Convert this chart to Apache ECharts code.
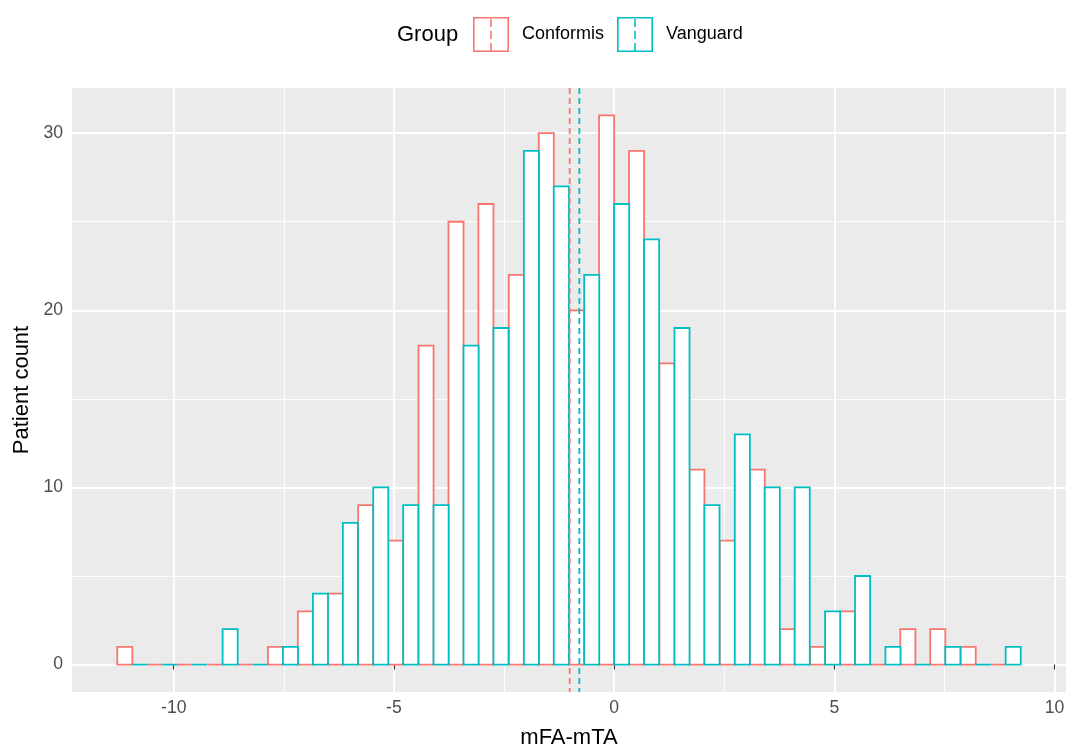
<!DOCTYPE html>
<html><head><meta charset="utf-8">
<script src="https://cdn.jsdelivr.net/npm/echarts@6/dist/echarts.min.js"></script>
<style>html,body{margin:0;padding:0;background:#fff}#c{width:1067px;height:747px}</style>
</head><body><div id="c"></div>
<script>
// ---- data ----
const binCenters = [-10.94, -10.26, -9.58, -8.89, -8.21, -7.52, -6.84, -6.16, -5.47, -4.79,
  -4.10, -3.42, -2.74, -2.05, -1.37, -0.68, 0, 0.68, 1.37, 2.05,
  2.74, 3.42, 4.10, 4.79, 5.47, 6.16, 6.84, 7.52, 8.21, 8.89];
const conformisCounts = [1, 0, 0, 0, 0, 1, 3, 4, 9, 7,
  18, 25, 26, 22, 30, 20, 31, 29, 17, 11,
  7, 11, 2, 1, 3, 0, 2, 2, 1, 0];
const vanguardCounts = [0, 0, 0, 2, 0, 1, 4, 8, 10, 9,
  9, 18, 19, 29, 27, 22, 26, 24, 19, 9,
  13, 10, 10, 3, 5, 1, 0, 1, 0, 1];
const groupNames = ['Conformis', 'Vanguard'];
const groupMeans = [-1.01, -0.79];
const xTickValues = [-10, -5, 0, 5, 10];
const yTickValues = [0, 10, 20, 30];

// ---- style ----
const binWidth = 0.684;
const colors = ['#F8766D', '#00BFC4'];
const FONT = '"Liberation Sans", Arial, sans-serif';

function histRender(side, color) {
  return function (params, api) {
    const c = api.value(0), v = api.value(1);
    const x0 = side < 0 ? c - binWidth / 2 : c;
    const x1 = side < 0 ? c : c + binWidth / 2;
    const p0 = api.coord([x0, v]);
    const p1 = api.coord([x1, 0]);
    return {
      type: 'rect',
      shape: { x: p0[0], y: p0[1], width: p1[0] - p0[0], height: p1[1] - p0[1] },
      style: { fill: v > 0 ? '#ffffff' : null, stroke: color, lineWidth: 1.8 }
    };
  };
}
function meanRender(color) {
  return function (params, api) {
    const v = api.value(0);
    const cs = params.coordSys;
    const p = api.coord([v, 0]);
    return {
      type: 'line',
      shape: { x1: p[0], y1: cs.y, x2: p[0], y2: cs.y + cs.height },
      style: { stroke: color, lineWidth: 1.8, lineDash: [6, 4] }
    };
  };
}

const keyIcon = 'path://M0,0H36V35H0Z M1.6,1.6V33.4H34.4V1.6Z M17.2,2H18.8V10H17.2Z M17.2,14H18.8V22H17.2Z M17.2,26H18.8V33.4H17.2Z';

const chart = echarts.init(document.getElementById('c'), null, { renderer: 'canvas' });
chart.setOption({
  animation: false,
  backgroundColor: '#ffffff',
  textStyle: { fontFamily: FONT },
  title: {
    text: 'Group', left: 397, top: 24, padding: 0,
    textStyle: { fontSize: 22, fontWeight: 'normal', color: '#000', fontFamily: FONT }
  },
  legend: {
    left: 473, top: 17, padding: 0,
    itemWidth: 36, itemHeight: 35, itemGap: 13,
    selectedMode: false,
    textStyle: { fontSize: 18, color: '#000', fontFamily: FONT, padding: [0, 0, 0, 8] },
    data: groupNames.map((n, i) => ({
      name: n, icon: keyIcon,
      itemStyle: { color: colors[i], borderWidth: 0 }
    }))
  },
  grid: {
    left: 72, right: 1, top: 88, bottom: 55,
    show: true, backgroundColor: '#EBEBEB', borderWidth: 0,
    containLabel: false, outerBoundsMode: 'none'
  },
  xAxis: {
    type: 'value', min: -12.31, max: 10.26,
    minInterval: 5, maxInterval: 5,
    name: 'mFA-mTA', nameLocation: 'middle', nameGap: 35,
    nameTextStyle: { fontSize: 22, color: '#000', fontFamily: FONT },
    axisLine: { show: false },
    axisTick: { show: true, length: 5, customValues: xTickValues, lineStyle: { color: '#333333', width: 1.1 } },
    axisLabel: { customValues: xTickValues, margin: 7, fontSize: 17.6, color: '#4D4D4D', fontFamily: FONT,
      formatter: v => (Math.abs(v % 5) < 1e-9 ? String(v) : '') },
    splitLine: { show: true, lineStyle: { color: '#ffffff', width: 1.8 } },
    minorTick: { show: false, splitNumber: 2 },
    minorSplitLine: { show: true, lineStyle: { color: '#ffffff', width: 0.9 } }
  },
  yAxis: {
    type: 'value', min: -1.55, max: 32.55,
    minInterval: 10, maxInterval: 10,
    name: 'Patient count', nameLocation: 'middle', nameGap: 35,
    nameTextStyle: { fontSize: 22, color: '#000', fontFamily: FONT },
    axisLine: { show: false },
    axisTick: { show: true, length: 5, customValues: yTickValues, lineStyle: { color: '#333333', width: 1.1 } },
    axisLabel: { customValues: yTickValues, margin: 9, fontSize: 17.6, color: '#4D4D4D', fontFamily: FONT,
      formatter: v => (Math.abs(v % 10) < 1e-9 ? String(v) : '') },
    splitLine: { show: true, lineStyle: { color: '#ffffff', width: 1.8 } },
    minorTick: { show: false, splitNumber: 2 },
    minorSplitLine: { show: true, lineStyle: { color: '#ffffff', width: 0.9 } }
  },
  series: [
    {
      name: groupNames[0], type: 'custom', z: 2,
      itemStyle: { color: colors[0] },
      renderItem: histRender(-1, colors[0]),
      encode: { x: 0, y: 1 },
      data: binCenters.map((c, i) => [c, conformisCounts[i]])
    },
    {
      name: groupNames[1], type: 'custom', z: 3,
      itemStyle: { color: colors[1] },
      renderItem: histRender(1, colors[1]),
      encode: { x: 0, y: 1 },
      data: binCenters.map((c, i) => [c, vanguardCounts[i]])
    },
    {
      name: groupNames[0] + ' mean', type: 'custom', z: 4, silent: true,
      renderItem: meanRender(colors[0]),
      encode: { x: 0 },
      data: [[groupMeans[0]]]
    },
    {
      name: groupNames[1] + ' mean', type: 'custom', z: 5, silent: true,
      renderItem: meanRender(colors[1]),
      encode: { x: 0 },
      data: [[groupMeans[1]]]
    }
  ]
});
</script>
</body></html>
